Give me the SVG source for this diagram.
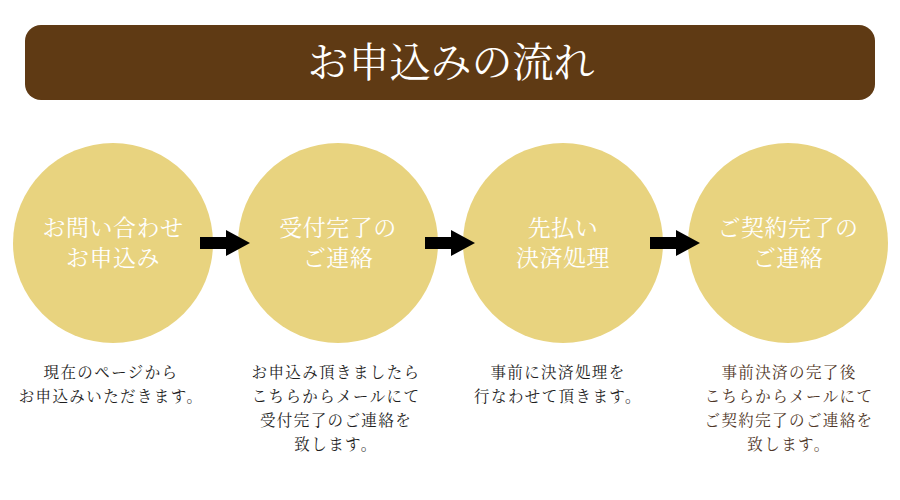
<svg xmlns="http://www.w3.org/2000/svg" width="900" height="500" viewBox="0 0 900 500">
<defs>
<style>
.jp{font-family:"Noto Serif CJK JP","Noto Sans CJK JP",sans-serif;}
.title{font-size:41px;fill:#ffffff;text-anchor:middle;}
.circ{fill:#e8d37f;}
.ctext{font-size:23px;fill:#ffffff;text-anchor:middle;letter-spacing:0.5px;}
.desc{font-size:15.5px;fill:#1e1e1e;text-anchor:middle;letter-spacing:1.4px;}
.desc4{fill:#4e3526;}
.arrow{fill:#000000;}
</style>
</defs>
<rect width="900" height="500" fill="#ffffff"/>
<g id="header">
<rect x="25" y="25" width="850" height="75" rx="16" fill="#5f3a14"/>
<text class="jp title" x="451" y="77">お申込みの流れ</text>
</g>
<g id="step1">
<circle class="circ" cx="113" cy="243" r="100"/>
<text class="jp ctext" x="113" y="236">お問い合わせ</text>
<text class="jp ctext" x="113" y="266">お申込み</text>
<text class="jp desc" x="111" y="378">現在のページから</text>
<text class="jp desc" x="111" y="402">お申込みいただきます。</text>
</g>
<g id="step2">
<circle class="circ" cx="338" cy="243" r="100"/>
<text class="jp ctext" x="338" y="236">受付完了の</text>
<text class="jp ctext" x="338" y="266">ご連絡</text>
<text class="jp desc" x="336" y="378">お申込み頂きましたら</text>
<text class="jp desc" x="336" y="402">こちらからメールにて</text>
<text class="jp desc" x="336" y="426">受付完了のご連絡を</text>
<text class="jp desc" x="336" y="450">致します。</text>
</g>
<g id="step3">
<circle class="circ" cx="563" cy="243" r="100"/>
<text class="jp ctext" x="563" y="236">先払い</text>
<text class="jp ctext" x="563" y="266">決済処理</text>
<text class="jp desc" x="558" y="378">事前に決済処理を</text>
<text class="jp desc" x="558" y="402">行なわせて頂きます。</text>
</g>
<g id="step4">
<circle class="circ" cx="788" cy="243" r="100"/>
<text class="jp ctext" x="788" y="236">ご契約完了の</text>
<text class="jp ctext" x="788" y="266">ご連絡</text>
<text class="jp desc desc4" x="789" y="378">事前決済の完了後</text>
<text class="jp desc desc4" x="789" y="402">こちらからメールにて</text>
<text class="jp desc desc4" x="789" y="426">ご契約完了のご連絡を</text>
<text class="jp desc desc4" x="789" y="450">致します。</text>
</g>
<g id="connectors">
<path class="arrow" d="M200,237 H226 V230 L250,243 L226,256 V249 H200 Z"/>
<path class="arrow" d="M425,237 H451 V230 L475,243 L451,256 V249 H425 Z"/>
<path class="arrow" d="M650,237 H676 V230 L700,243 L676,256 V249 H650 Z"/>
</g>
</svg>
